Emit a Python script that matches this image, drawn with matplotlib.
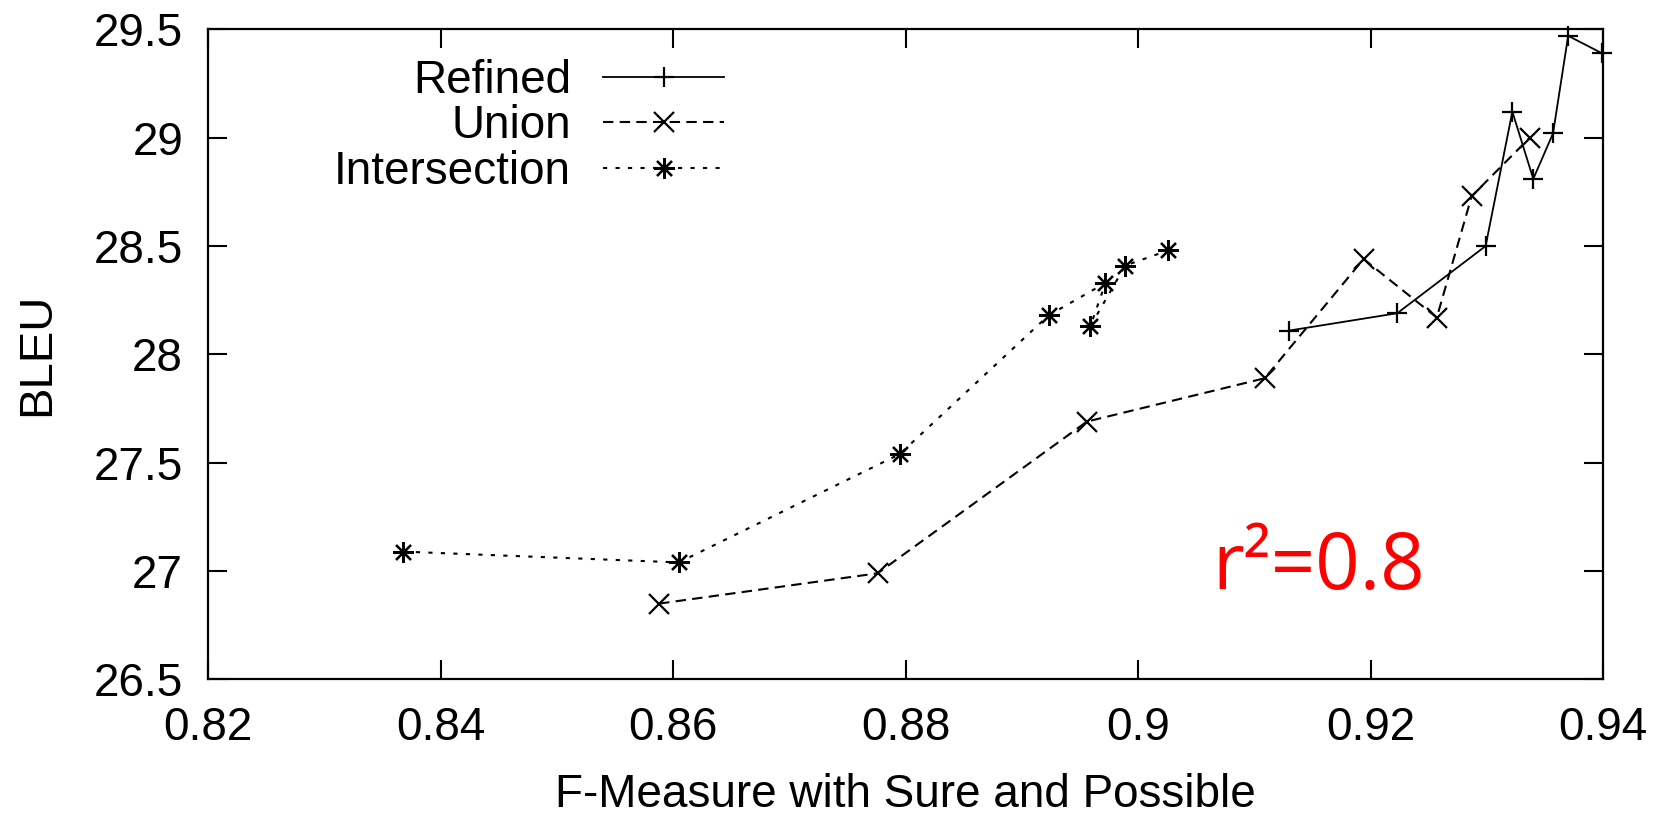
import matplotlib
matplotlib.use("Agg")
import matplotlib.pyplot as plt

# alignment quality (F-measure) vs. translation quality (BLEU)
refined_x = [0.9130, 0.9223, 0.9299, 0.9322, 0.9340, 0.9357, 0.9370, 0.9399]
refined_y = [28.11, 28.19, 28.50, 29.12, 28.81, 29.02, 29.47, 29.39]

union_x = [0.8588, 0.8776, 0.8956, 0.9109, 0.9194, 0.9257, 0.9287, 0.9337]
union_y = [26.85, 26.99, 27.69, 27.89, 28.44, 28.17, 28.73, 29.00]

inter_x = [0.8368, 0.8605, 0.8795, 0.8923, 0.8972, 0.8959, 0.8989, 0.9026]
inter_y = [27.09, 27.04, 27.54, 28.18, 28.33, 28.13, 28.41, 28.48]

x_ticks = [0.82, 0.84, 0.86, 0.88, 0.90, 0.92, 0.94]
x_labels = ["0.82", "0.84", "0.86", "0.88", "0.9", "0.92", "0.94"]
y_ticks = [26.5, 27, 27.5, 28, 28.5, 29, 29.5]
y_labels = ["26.5", "27", "27.5", "28", "28.5", "29", "29.5"]

plt.rcParams["font.family"] = ["Liberation Sans", "DejaVu Sans"]

fig = plt.figure(figsize=(16.66, 8.15), dpi=100)
ax = fig.add_axes([0.1249, 0.1663, 0.8373, 0.7977])

ax.plot(refined_x, refined_y, color="black", lw=1.3, marker="+",
        markersize=15, markeredgewidth=1.6, label="Refined", clip_on=False)
ax.plot(union_x, union_y, color="black", lw=1.5, dashes=(5, 3), marker="x",
        markersize=14, markeredgewidth=1.6, label="Union", clip_on=False)
ax.plot(inter_x, inter_y, color="black", lw=1.5, dashes=(2, 4), marker=(8, 2, 0),
        markersize=15, markeredgewidth=1.6, label="Intersection", clip_on=False)

ax.set_xlim(0.82, 0.94)
ax.set_ylim(26.5, 29.5)
ax.set_xticks(x_ticks)
ax.set_xticklabels(x_labels)
ax.set_yticks(y_ticks)
ax.set_yticklabels(y_labels)
ax.tick_params(direction="in", length=14, width=1.5, labelsize=33,
               top=True, right=True)
ax.tick_params(axis="x", pad=19)
ax.tick_params(axis="y", pad=18)
for s in ax.spines.values():
    s.set_linewidth(1.6)

ax.set_xlabel("F-Measure with Sure and Possible", fontsize=33, labelpad=17)
ax.set_ylabel("BLEU", fontsize=34)
ax.yaxis.set_label_coords(-0.107, 0.5)

leg = ax.legend(loc="upper right", bbox_to_anchor=(0.37, 0.955), frameon=False,
                fontsize=33, markerfirst=False, handlelength=2.64,
                handletextpad=0.7, labelspacing=0.04, borderpad=0,
                borderaxespad=0)
# right-align the rows so labels end flush against their line samples
for col in leg._legend_handle_box.get_children():
    col.align = "right"

ax.text(0.7197, 0.139, "r²=0.8", transform=ax.transAxes, color="#ff0000",
        fontsize=56, family=["Open Sans", "DejaVu Sans"], ha="left", va="baseline")

fig.savefig("out.png", dpi=100)
